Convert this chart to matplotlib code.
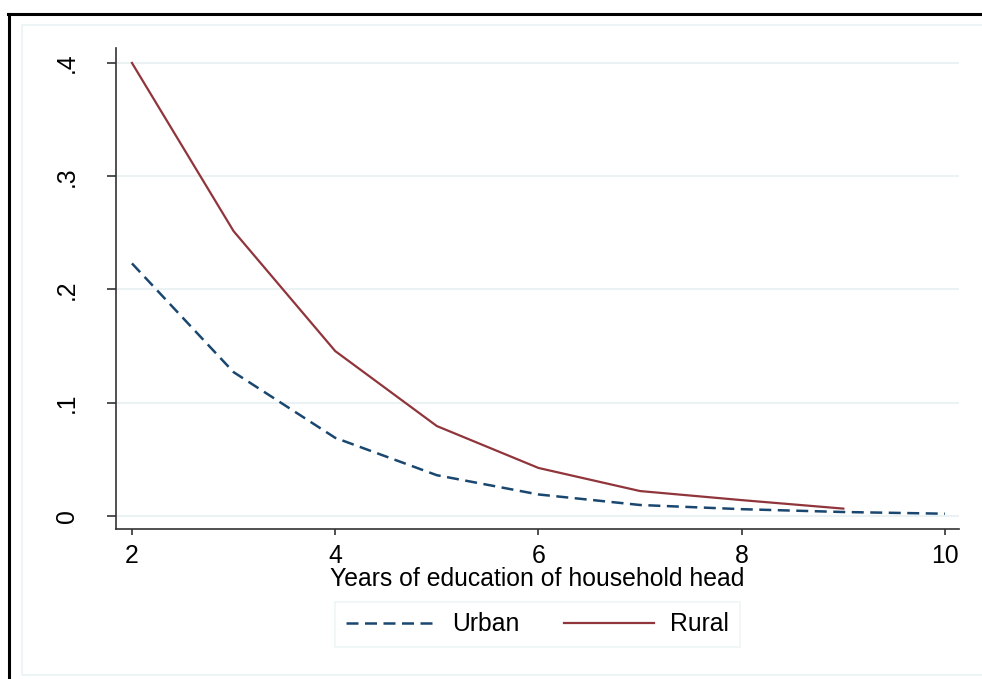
import numpy as np
import matplotlib.pyplot as plt
from matplotlib.lines import Line2D
from matplotlib.patches import Rectangle

plt.rcParams['font.family'] = ['Liberation Sans', 'DejaVu Sans']

years_urban = [2, 3, 4, 5, 6, 7, 8, 9, 10]
urban = [0.223, 0.127, 0.069, 0.036, 0.019, 0.0097, 0.006, 0.0035, 0.002]
years_rural = [2, 3, 4, 5, 6, 7, 8, 9]
rural = [0.400, 0.2515, 0.1456, 0.0794, 0.0424, 0.022, 0.014, 0.0065]

xticks = [2, 4, 6, 8, 10]
yticks = [0, 0.1, 0.2, 0.3, 0.4]
ylabels = ['0', '.1', '.2', '.3', '.4']

navy = '#1a476f'
maroon = '#90353b'
grid = '#eaf2f3'
fs = 17.8

W, H = 982, 679
fig = plt.figure(figsize=(W / 100, H / 100), dpi=100)

# outer frame (top and left only visible) and inner graph region
fig.add_artist(Line2D([9 / W, 9 / W], [0, 1 - 14 / H], color='black', lw=2.2,
                      transform=fig.transFigure))
fig.add_artist(Line2D([8 / W, 1], [1 - 14 / H, 1 - 14 / H], color='black', lw=2.2,
                      transform=fig.transFigure))
fig.add_artist(Rectangle((22 / W, 1 - 675 / H), 1, (675 - 25) / H, fill=False,
                         edgecolor=grid, lw=1.2, transform=fig.transFigure))

ax = fig.add_axes([116 / W, 1 - 529 / H, (959 - 116) / W, (529 - 48) / H])
ax.plot(years_urban, urban, color=navy, lw=1.8, ls=(0, (4.8, 2.6)), label='Urban')
ax.plot(years_rural, rural, color=maroon, lw=1.6, label='Rural')

ax.set_xlim(1.843, 10.138)
ax.set_ylim(-0.0115, 0.4132)
ax.set_xticks(xticks)
ax.set_yticks(yticks)
ax.set_yticklabels(ylabels, rotation=90, va='center')
for y in yticks:
    ax.axhline(y, color=grid, lw=1.5, zorder=0)

for s in ['top', 'right']:
    ax.spines[s].set_visible(False)
for s in ['left', 'bottom']:
    ax.spines[s].set_color('#333333')
    ax.spines[s].set_linewidth(1.2)
ax.tick_params(axis='both', width=1.2, color='#333333', labelsize=fs)
ax.tick_params(axis='x', length=4.3, pad=6.5)
ax.tick_params(axis='y', length=6.5, pad=20)

ax.set_xlabel('Years of education of household head', fontsize=fs, labelpad=-1)

leg = ax.legend(loc='upper center', bbox_to_anchor=(0.5, -0.152), ncol=2,
                fontsize=fs, frameon=True, fancybox=False, handlelength=3.65,
                columnspacing=1.8, borderpad=0.42, handletextpad=0.65,
                borderaxespad=0)
leg.get_frame().set_edgecolor(grid)
leg.get_frame().set_linewidth(1.2)

fig.savefig('out.png', dpi=100)
